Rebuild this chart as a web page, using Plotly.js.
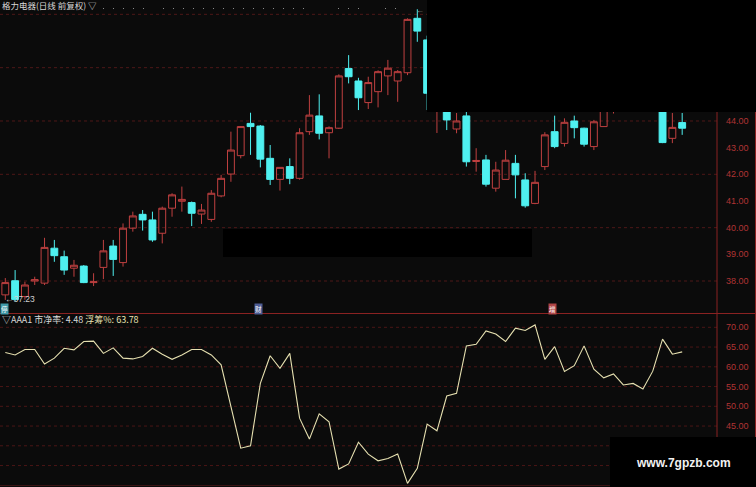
<!DOCTYPE html>
<html><head><meta charset="utf-8">
<script src="https://cdn.plot.ly/plotly-3.0.1.min.js"></script>
<style>html,body{margin:0;padding:0;background:#0b0b0b;overflow:hidden}#chart{width:756px;height:487px}</style>
</head><body><div id="chart"></div>
<script>
// ---- data ----
const openP  = [37.48,38.01,37.42,38.00,37.92,39.23,38.91,38.48,38.56,37.94,
                38.51,39.31,38.69,39.98,40.50,40.29,39.79,40.73,40.99,40.94,
                40.51,40.31,41.19,42.01,42.70,43.91,43.81,42.60,41.81,42.29,
                41.85,43.60,44.19,43.56,43.73,45.97,45.50,44.69,45.10,45.69,
                45.50,45.81,47.85,47.04,44.45,44.60,43.70,44.19,42.48,42.54,
                41.48,41.81,42.41,41.79,40.91,42.29,43.60,43.16,44.00,43.73,
                43.04,43.79,44.60,45.00,45.40,45.20,45.60,45.20,43.35,43.94];
const highP  = [38.11,38.41,37.97,38.16,39.62,39.54,39.14,38.79,38.60,38.29,
                39.54,39.54,40.16,40.60,40.66,40.60,40.79,41.29,41.54,40.98,
                40.89,41.41,41.98,43.60,43.81,44.31,43.85,43.10,42.26,42.60,
                43.73,44.97,45.00,43.80,45.75,46.47,45.62,45.66,45.90,46.29,
                45.91,47.85,48.19,47.20,45.60,44.90,44.30,44.50,42.98,42.73,
                42.47,42.91,42.73,42.04,42.13,43.58,44.20,44.10,44.20,43.75,
                44.04,44.80,45.30,45.70,45.80,45.90,45.90,45.40,44.30,44.30];
const lowP   = [37.29,37.23,37.30,37.85,37.85,38.72,38.23,38.16,37.92,37.81,
                38.07,38.19,38.54,39.85,39.89,39.47,39.41,40.41,40.60,40.06,
                40.14,40.22,41.14,41.72,42.60,42.73,42.26,41.60,41.39,41.63,
                41.80,43.48,43.31,42.60,43.70,45.41,44.41,44.45,44.51,44.97,
                44.72,45.72,46.97,44.41,43.55,43.66,43.54,42.29,42.10,41.54,
                41.35,41.81,41.10,40.75,40.88,42.16,42.98,43.04,43.35,43.04,
                42.91,43.79,44.28,44.80,44.90,45.00,44.90,43.17,43.17,43.48];
const closeP = [37.94,37.31,37.85,38.05,39.26,38.95,38.41,38.59,37.94,37.97,
                39.13,38.81,39.98,40.44,40.29,39.54,40.73,41.23,41.06,40.54,
                40.66,41.29,41.85,42.91,43.79,43.79,42.57,41.81,42.26,41.85,
                43.56,44.22,43.54,43.75,45.69,45.66,44.87,45.44,45.85,45.98,
                45.85,47.81,47.37,45.04,45.30,44.04,44.00,42.47,42.52,41.63,
                42.16,42.53,41.98,40.82,41.70,43.48,43.04,43.95,43.75,43.13,
                43.97,44.50,45.00,45.40,45.20,45.60,45.30,43.19,43.76,43.73];
const floatPct = [63.6,63.0,64.4,64.4,60.7,62.2,64.7,64.3,66.4,66.5,
                  63.4,64.8,62.2,62.0,62.6,64.7,63.2,61.9,63.0,64.4,
                  64.4,63.0,60.5,50.0,39.4,40.0,55.8,62.8,59.6,63.4,
                  47.0,41.7,48.1,46.1,34.1,35.4,40.9,37.9,36.2,36.8,
                  37.9,30.5,34.3,45.5,43.8,52.6,53.3,65.3,65.7,69.1,
                  68.3,66.4,69.8,69.2,70.6,61.9,65.1,58.8,60.3,65.3,
                  59.4,57.2,58.2,55.4,55.8,54.4,58.9,67.0,63.2,63.78];
const priceTicks = [38,39,40,41,42,43,44];
const priceGrid  = [38,40,42,44,46,48];
const pctTicks   = [45,50,55,60,65,70];
const pctGrid    = [35,40,45,50,55,60,65,70];
const lowLabel   = '←37.23';
const headTitle  = '格力电器(日线 前复权) ▽';
const pbText = '市净率: 4.48';
const fcText = '浮筹%: 63.78';
const dayIdx = openP.map((_, i) => i);

// ---- layout helpers (pixel -> paper) ----
const W = 756, H = 487, PW = 717;
const px = x => x / PW;
const py = y => 1 - y / H;
const RED = '#8a2222';

const shapes = [];
priceGrid.forEach(v => shapes.push({type:'line', xref:'paper', yref:'y', x0:0, x1:1, y0:v, y1:v,
  line:{color:'#4e1818', width:1, dash:'dot'}, layer:'below'}));
pctGrid.forEach(v => shapes.push({type:'line', xref:'paper', yref:'y2', x0:0, x1:1, y0:v, y1:v,
  line:{color:'#4a1616', width:1, dash:'dot'}, layer:'below'}));
// dotted top row
[[103,145],[163,310],[338,360],[385,402]].forEach(s => shapes.push({type:'line', xref:'paper', yref:'paper',
  x0:px(s[0]), x1:px(s[1]), y0:py(8.5), y1:py(8.5), line:{color:'#8a8a8a', width:1, dash:'1px,9px'}, layer:'below'}));
// frame lines
shapes.push({type:'line', xref:'paper', yref:'paper', x0:0, x1:px(756), y0:py(313.5), y1:py(313.5), line:{color:RED, width:1}});
shapes.push({type:'line', xref:'paper', yref:'paper', x0:0, x1:px(756), y0:py(485.5), y1:py(485.5), line:{color:'#3a1414', width:1}});
shapes.push({type:'line', xref:'paper', yref:'paper', x0:1, x1:1, y0:0, y1:1, line:{color:RED, width:1}});
shapes.push({type:'line', xref:'paper', yref:'paper', x0:px(755.5), x1:px(755.5), y0:0, y1:1, line:{color:RED, width:1}});
// black masks
[[427,0,756,112],[223,229,532,257],[610,437,756,487]].forEach(b => shapes.push({type:'rect', xref:'paper', yref:'paper',
  x0:px(b[0]), x1:px(b[2]), y0:py(b[3]), y1:py(b[1]), fillcolor:'#000000', line:{width:0}, layer:'above'}));

const ann = (text, x, y, opts) => Object.assign({text, xref:'paper', yref:'paper', x:px(x), y:py(y),
  xanchor:'left', yanchor:'middle', showarrow:false, borderpad:0,
  font:{family:'Noto Sans CJK SC, Liberation Sans, sans-serif', size:9, color:'#d8d8d8'}}, opts || {});

const annotations = [
  ann(headTitle, 1, 5, {font:{family:'Noto Sans CJK SC', size:8.5, color:'#d8d8d8'}}),
  ann(lowLabel, 4, 299, {font:{family:'Liberation Sans', size:8.5, color:'#d0d0d0'}}),
  ann('←', 415, 11, {font:{family:'Liberation Sans', size:8, color:'#9a9a9a'}}),
  ann('▽AAA1 ' + pbText + ' <span style="color:#e8e2b4">' + fcText + '</span>', 1, 319,
      {font:{family:'Noto Sans CJK SC', size:9, color:'#d8d8d8'}}),
  ann('停', 0, 309, {font:{family:'Noto Sans CJK SC', size:6.5, color:'#ffffff'}, bgcolor:'#3f9aa8'}),
  ann('财', 254, 309, {font:{family:'Noto Sans CJK SC', size:6.5, color:'#ffffff'}, bgcolor:'#4e5d94'}),
  ann('增', 548, 309, {font:{family:'Noto Sans CJK SC', size:6.5, color:'#ffffff'}, bgcolor:'#b04444'}),
  ann('<b>www.7gpzb.com</b>', 683, 463, {xanchor:'center', font:{family:'Liberation Sans', size:12, color:'#f2f2f2'}})
];

const traces = [
  {type:'candlestick', x:dayIdx, open:openP, high:highP, low:lowP, close:closeP, xaxis:'x', yaxis:'y',
   increasing:{line:{color:'#c04040', width:1}, fillcolor:'rgba(0,0,0,0)'},
   decreasing:{line:{color:'#4ff0f0', width:1}, fillcolor:'#4ff0f0'},
   whiskerwidth:0, hoverinfo:'skip', showlegend:false},
  {type:'scatter', mode:'lines', x:dayIdx, y:floatPct, xaxis:'x', yaxis:'y2',
   line:{color:'#e6e0b0', width:1.1}, hoverinfo:'skip', showlegend:false}
];

const tickFont = {family:'Liberation Sans', size:9, color:'#b03434'};
const layout = {
  width:W, height:H, margin:{l:0, r:W-PW, t:0, b:0, pad:0},
  paper_bgcolor:'#0b0b0b', plot_bgcolor:'#0b0b0b', showlegend:false,
  boxgap:0.3, boxgroupgap:0,
  xaxis:{range:[-0.54, 72.55], showgrid:false, zeroline:false, showticklabels:false, showline:false,
         ticks:'', rangeslider:{visible:false}, fixedrange:true},
  yaxis:{domain:[1-313/H, 1], range:[36.8, 48.537], side:'right', anchor:'x', tickmode:'array',
         tickvals:priceTicks, tickformat:'.2f', showgrid:false, zeroline:false, showline:false, ticks:'',
         tickfont:tickFont, ticklabelstandoff:8, fixedrange:true},
  yaxis2:{domain:[0, 1-314/H], range:[29.57, 73.37], side:'right', anchor:'x', tickmode:'array',
          tickvals:pctTicks, tickformat:'.2f', showgrid:false,
          zeroline:false, showline:false, ticks:'', tickfont:tickFont, ticklabelstandoff:8, fixedrange:true},
  shapes, annotations
};
Plotly.newPlot('chart', traces, layout, {staticPlot:true, displayModeBar:false});
</script>
</body></html>
